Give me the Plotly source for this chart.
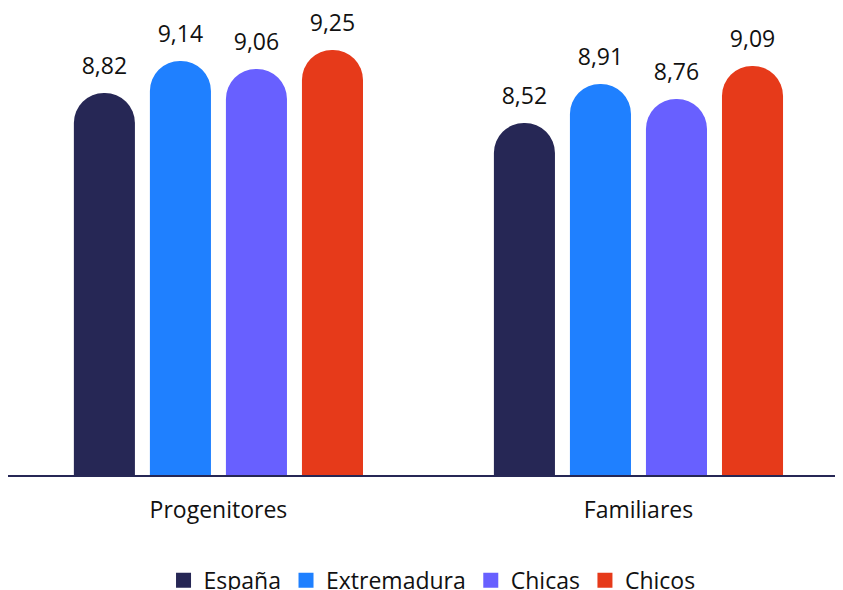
import plotly.graph_objects as go

categories = ["Progenitores", "Familiares"]
series_names = ["España", "Extremadura", "Chicas", "Chicos"]
espana = [8.82, 8.52]
extremadura = [9.14, 8.91]
chicas = [9.06, 8.76]
chicos = [9.25, 9.09]
series_values = [espana, extremadura, chicas, chicos]
colors = ["#262755", "#1F80FF", "#6860FF", "#E63A1A"]

FONT = "Open Sans"
FS = 23
fig = go.Figure()
for name, vals, col in zip(series_names, series_values, colors):
    fig.add_trace(go.Bar(
        x=categories, y=vals, name=name, legendgroup=name, showlegend=False,
        marker=dict(color=col, cornerradius=30, line=dict(width=0)),
        hoverinfo="skip",
    ))
for name, vals, col in zip(series_names, series_values, colors):
    fig.add_trace(go.Scatter(
        x=categories, y=vals, mode="markers+text",
        texttemplate="%{y:.2f}", textposition="top center",
        textfont=dict(family=FONT, size=FS, color="#111111"),
        marker=dict(size=20, opacity=0), cliponaxis=False,
        showlegend=False, hoverinfo="skip",
    ))
# legend entries (square swatches) on a hidden overlay axis
for name, col in zip(series_names, colors):
    fig.add_trace(go.Scatter(
        x=[None], y=[None], mode="markers", name=name, legendgroup=name,
        marker=dict(symbol="square", size=15, color=col),
        xaxis="x2", yaxis="y2", showlegend=True, hoverinfo="skip",
    ))

fig.update_layout(
    width=843, height=590,
    margin=dict(l=0, r=0, t=7, b=123),
    paper_bgcolor="white", plot_bgcolor="white",
    barmode="group", bargap=0.276, bargroupgap=0.197,
    scattermode="group", scattergap=0.276,
    separators=",.",
    font=dict(family=FONT, size=FS, color="#111111"),
    showlegend=True,
    legend=dict(orientation="h", xanchor="center", x=0.503,
                yref="container", yanchor="middle", y=0.03,
                font=dict(family=FONT, size=FS, color="#111111"),
                itemwidth=30, tracegroupgap=0, itemclick=False,
                itemdoubleclick=False),
    xaxis=dict(range=[-0.501, 1.506], showgrid=False, zeroline=False,
               showline=True, linecolor="#262755", linewidth=2,
               ticks="", ticklabelstandoff=13,
               tickfont=dict(family=FONT, size=FS, color="#111111")),
    yaxis=dict(range=[5, 9.6], visible=False, showgrid=False, zeroline=False),
    xaxis2=dict(overlaying="x", visible=False, range=[0, 1]),
    yaxis2=dict(overlaying="y", visible=False, range=[0, 1]),
)

fig.write_html("out.html")
